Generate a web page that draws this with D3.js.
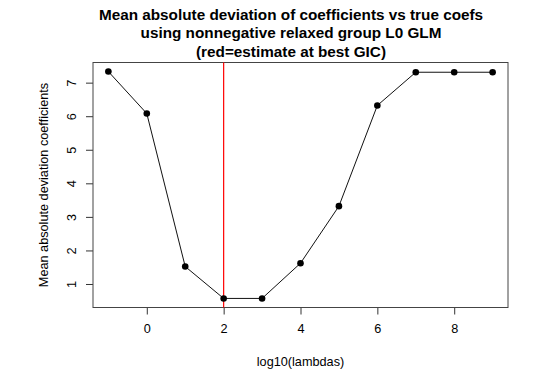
<!DOCTYPE html>
<html lang="en">
<head>
  <meta charset="utf-8"/>
  <script src="https://d3js.org/d3.v7.min.js"></script>
  <style>
    body { margin: 0; background: #fff; }
    svg text { font-family: "Liberation Sans", Arial, sans-serif; fill: #000; }
  </style>
</head>
<body>
<div id="chart"></div>
<script>
  // log10(lambda) values and mean absolute deviation
  const lambdas = [-1, 0, 1, 2, 3, 4, 5, 6, 7, 8, 9];
  const madValues = [7.33, 6.08, 1.52, 0.57, 0.57, 1.62, 3.32, 6.32, 7.31, 7.31, 7.31];
  const bestLambda = 2;
  const xTicks = [0, 2, 4, 6, 8];
  const yTicks = [1, 2, 3, 4, 5, 6, 7];
  const titleLines = [
    "Mean absolute deviation of coefficients vs true coefs",
    "using nonnegative relaxed group L0 GLM",
    "(red=estimate at best GIC)"
  ];

  const width = 540, height = 386;
  const plot = {left: 93, right: 508, top: 62.5, bottom: 307.5};
  const fontSize = "12.7px";

  const svg = d3.select("#chart").append("svg")
    .attr("width", width)
    .attr("height", height);

  // R style 4% padding around the data range
  const padRange = ext => {
    const d = (ext[1] - ext[0]) * 0.04;
    return [ext[0] - d, ext[1] + d];
  };
  const x = d3.scaleLinear().domain(padRange(d3.extent(lambdas))).range([plot.left, plot.right]);
  const y = d3.scaleLinear().domain(padRange(d3.extent(madValues))).range([plot.bottom, plot.top]);

  // title
  svg.append("g").selectAll("text")
    .data(titleLines)
    .enter().append("text")
    .attr("x", 291)
    .attr("y", (d, i) => 19.5 + i * 18.5)
    .attr("text-anchor", "middle")
    .attr("font-size", "15.3px")
    .attr("font-weight", "bold")
    .text(d => d);

  // x axis
  const xAxis = svg.append("g")
    .attr("transform", `translate(0,${plot.bottom})`)
    .call(d3.axisBottom(x).tickValues(xTicks).tickSize(7).tickPadding(9).tickFormat(d3.format("d")));
  xAxis.select(".domain").remove();
  xAxis.selectAll(".tick line").attr("stroke", "#333");
  xAxis.selectAll("text").attr("font-size", fontSize).style("font-family", "Liberation Sans, Arial, sans-serif");

  // y axis with rotated labels
  const yAxis = svg.append("g")
    .attr("transform", `translate(${plot.left},0)`)
    .call(d3.axisLeft(y).tickValues(yTicks).tickSize(7).tickFormat(d3.format("d")));
  yAxis.select(".domain").remove();
  yAxis.selectAll(".tick line").attr("stroke", "#333");
  yAxis.selectAll("text")
    .attr("x", null).attr("dy", null)
    .attr("transform", "translate(-21,0) rotate(-90)")
    .attr("text-anchor", "middle")
    .attr("dy", "0.35em")
    .attr("font-size", fontSize)
    .style("font-family", "Liberation Sans, Arial, sans-serif");

  // axis labels
  svg.append("text")
    .attr("x", (plot.left + plot.right) / 2)
    .attr("y", 365.5)
    .attr("text-anchor", "middle")
    .attr("font-size", fontSize)
    .text("log10(lambdas)");

  svg.append("text")
    .attr("transform", `translate(48,${(plot.top + plot.bottom) / 2}) rotate(-90)`)
    .attr("text-anchor", "middle")
    .attr("font-size", fontSize)
    .text("Mean absolute deviation coefficients");

  // plot box
  svg.append("rect")
    .attr("x", plot.left).attr("y", plot.top)
    .attr("width", plot.right - plot.left)
    .attr("height", plot.bottom - plot.top)
    .attr("fill", "none")
    .attr("stroke", "#444")
    .attr("stroke-width", 1);

  const pts = lambdas.map((l, i) => ({l: l, v: madValues[i]}));

  // best GIC marker
  svg.append("line")
    .attr("x1", x(bestLambda)).attr("x2", x(bestLambda))
    .attr("y1", plot.top).attr("y2", plot.bottom)
    .attr("stroke", "#ff0000")
    .attr("stroke-width", 1.2);

  // line through the points
  svg.append("path")
    .datum(pts)
    .attr("fill", "none")
    .attr("stroke", "#111")
    .attr("stroke-width", 1)
    .attr("d", d3.line().x(d => x(d.l)).y(d => y(d.v)));

  // points
  svg.append("g").selectAll("circle")
    .data(pts)
    .enter().append("circle")
    .attr("cx", d => x(d.l))
    .attr("cy", d => y(d.v))
    .attr("r", 3.3)
    .attr("fill", "#000");
</script>
</body>
</html>
